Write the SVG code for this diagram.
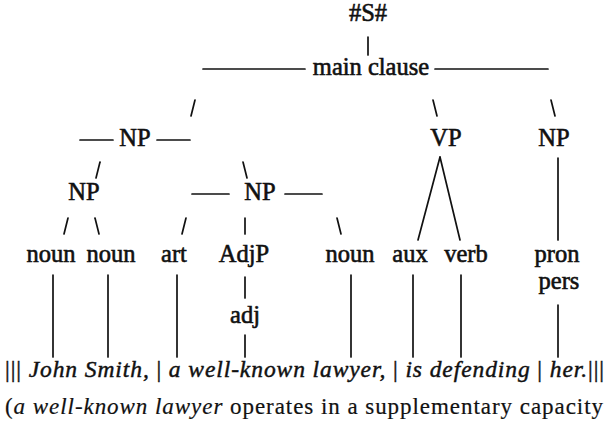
<svg xmlns="http://www.w3.org/2000/svg" width="606" height="433" viewBox="0 0 606 433">
<style>
.t{font-size:24.5px;fill:#111;stroke:#111;stroke-width:0.6;text-anchor:middle}
.s{font-size:23.5px;fill:#111;stroke:#111;stroke-width:0.45}
.r{font-size:23px;fill:#111;stroke:#111;stroke-width:0.2}
.i{font-style:italic}
.c line{stroke:#111;stroke-width:1.7;stroke-linecap:round}
</style>
<rect width="606" height="433" fill="#fff"/>
<g font-family="Liberation Serif, Times New Roman, serif">
<g id="n-S"><text class="t" x="368" y="21">#S#</text></g>
<g id="n-main"><text class="t" x="371" y="75">main clause</text></g>
<g id="n-NP1"><text class="t" x="135" y="146">NP</text></g>
<g id="n-VP"><text class="t" x="446" y="146">VP</text></g>
<g id="n-NP2"><text class="t" x="554" y="146">NP</text></g>
<g id="n-NP3"><text class="t" x="84" y="200">NP</text></g>
<g id="n-NP4"><text class="t" x="260" y="200">NP</text></g>
<g id="n-noun1"><text class="t" x="51" y="262">noun</text></g>
<g id="n-noun2"><text class="t" x="111" y="262">noun</text></g>
<g id="n-art"><text class="t" x="174" y="262">art</text></g>
<g id="n-AdjP"><text class="t" x="244" y="262">AdjP</text></g>
<g id="n-noun3"><text class="t" x="350" y="262">noun</text></g>
<g id="n-aux"><text class="t" x="410" y="262">aux</text></g>
<g id="n-verb"><text class="t" x="466" y="262">verb</text></g>
<g id="n-pron"><text class="t" x="557" y="262">pron</text><text class="t" x="559" y="289">pers</text></g>
<g id="n-adj"><text class="t" x="245" y="323">adj</text></g>
<text class="s" x="5" y="377" textLength="599" lengthAdjust="spacing">||| <tspan class="i">John Smith,</tspan> | <tspan class="i">a  well-known lawyer,</tspan> | <tspan class="i">is defending</tspan> | <tspan class="i">her.</tspan>|||</text>
<text class="r" x="5" y="414" textLength="598" lengthAdjust="spacing">(<tspan class="i">a well-known lawyer</tspan> operates in a supplementary capacity</text>
</g>
<g id="c" class="c">
<line x1="368" y1="37" x2="368" y2="55"/>
<line x1="203" y1="69" x2="305" y2="69"/>
<line x1="435" y1="69" x2="548" y2="69"/>
<line x1="195" y1="100" x2="191" y2="116"/>
<line x1="433" y1="100" x2="437" y2="116"/>
<line x1="551" y1="100" x2="555" y2="116"/>
<line x1="80" y1="140" x2="113" y2="140"/>
<line x1="157" y1="140" x2="190" y2="140"/>
<line x1="100" y1="162" x2="96" y2="178"/>
<line x1="243" y1="162" x2="247" y2="178"/>
<line x1="192" y1="194" x2="229" y2="194"/>
<line x1="285" y1="194" x2="322" y2="194"/>
<line x1="440" y1="157" x2="418" y2="240"/>
<line x1="440" y1="157" x2="460" y2="240"/>
<line x1="558" y1="158" x2="558" y2="240"/>
<line x1="68" y1="218" x2="64" y2="234"/>
<line x1="95" y1="218" x2="99" y2="234"/>
<line x1="186" y1="218" x2="182" y2="234"/>
<line x1="245" y1="218" x2="245" y2="234"/>
<line x1="337" y1="218" x2="341" y2="234"/>
<line x1="53" y1="275" x2="53" y2="357"/>
<line x1="108" y1="275" x2="108" y2="357"/>
<line x1="177" y1="275" x2="177" y2="357"/>
<line x1="245" y1="277" x2="245" y2="298"/>
<line x1="245" y1="335" x2="245" y2="357"/>
<line x1="351" y1="275" x2="351" y2="357"/>
<line x1="413" y1="275" x2="413" y2="357"/>
<line x1="461" y1="275" x2="461" y2="357"/>
<line x1="558" y1="305" x2="558" y2="357"/>
</g>
</svg>
